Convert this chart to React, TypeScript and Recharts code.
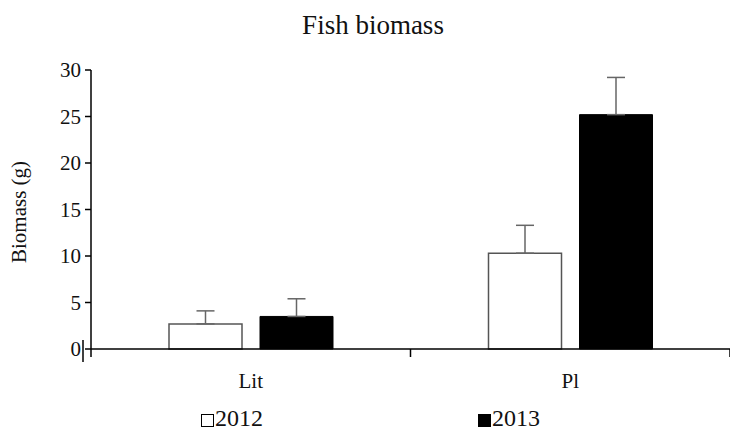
import React from 'react';
import { BarChart, Bar, XAxis, YAxis, ErrorBar } from 'recharts';

const categories = ['Lit', 'Pl'];
const values2012 = [2.7, 10.3];
const values2013 = [3.5, 25.2];
const errors2012 = [1.4, 3.0];
const errors2013 = [1.9, 4.0];
const yTicks = [0, 5, 10, 15, 20, 25, 30];
const seriesNames = ['2012', '2013'];

const data = categories.map((c, i) => ({
  name: c,
  v2012: values2012[i],
  v2013: values2013[i],
  e2012: [0, errors2012[i]],
  e2013: [0, errors2013[i]],
}));

const FONT = 'Liberation Serif, Times New Roman, Times, DejaVu Serif, serif';
const BAND = 319.5;

const XTick = (props: any) => {
  const { x, y, payload, index } = props;
  return (
    <g>
      <line x1={x - BAND / 2} x2={x - BAND / 2} y1={y} y2={y + 8} stroke="#000" strokeWidth={1.5} />
      {index === categories.length - 1 && (
        <line x1={x + BAND / 2} x2={x + BAND / 2} y1={y} y2={y + 8} stroke="#000" strokeWidth={1.5} />
      )}
      <text x={x} y={y + 39} textAnchor="middle" style={{ fontFamily: FONT }} fontSize={21} fill="#111">
        {payload.value}
      </text>
    </g>
  );
};

const YTick = (props: any) => {
  const { x, y, payload } = props;
  return (
    <g>
      <text x={x} y={y + 7} textAnchor="end" style={{ fontFamily: FONT }} fontSize={21} fill="#111">
        {payload.value}
      </text>
      {payload.value === 0 && (
        <line x1={x + 2} x2={x + 2} y1={y - 9} y2={y + 13} stroke="#000" strokeWidth={1.5} />
      )}
    </g>
  );
};

const YLabel = () => (
  <text
    x={26}
    y={212}
    transform="rotate(-90, 26, 212)"
    textAnchor="middle"
    style={{ fontFamily: FONT }}
    fontSize={21}
    fill="#111"
  >
    Biomass (g)
  </text>
);

export default function App() {
  return (
    <div style={{ position: 'absolute', left: 0, top: 0, width: 730, height: 435, background: '#fff', fontFamily: FONT }}>
      <div
        style={{
          position: 'absolute',
          left: 0,
          width: 746,
          top: 10,
          textAlign: 'center',
          fontFamily: FONT,
          fontSize: 27,
          color: '#111',
        }}
      >
        Fish biomass
      </div>
      <BarChart
        width={730}
        height={435}
        data={data}
        margin={{ top: 70, right: 0, left: 0, bottom: 46 }}
        barSize={73}
        barGap={18}
      >
        <XAxis
          dataKey="name"
          height={40}
          axisLine={{ stroke: '#000', strokeWidth: 1.5 }}
          tickLine={false}
          tickSize={0}
          tickMargin={0}
          tick={<XTick />}
          interval={0}
        />
        <YAxis
          width={91}
          domain={[0, 30]}
          ticks={yTicks}
          interval={0}
          axisLine={{ stroke: '#000', strokeWidth: 1.5 }}
          tickLine={{ stroke: '#000', strokeWidth: 1.5 }}
          tickSize={6}
          tickMargin={4}
          tick={<YTick />}
          label={<YLabel />}
        />
        <Bar dataKey="v2012" name={seriesNames[0]} fill="#fff" stroke="#555" strokeWidth={1.5} isAnimationActive={false}>
          <ErrorBar dataKey="e2012" direction="y" width={9} stroke="#666" strokeWidth={1.5} isAnimationActive={false} />
        </Bar>
        <Bar dataKey="v2013" name={seriesNames[1]} fill="#000" stroke="#000" strokeWidth={1} isAnimationActive={false}>
          <ErrorBar dataKey="e2013" direction="y" width={9} stroke="#666" strokeWidth={1.5} isAnimationActive={false} />
        </Bar>
      </BarChart>
      {[
        { left: 201, fill: '#fff', label: seriesNames[0] },
        { left: 478, fill: '#000', label: seriesNames[1] },
      ].map((it) => (
        <div
          key={it.label}
          style={{
            position: 'absolute',
            left: it.left,
            top: 405,
            display: 'flex',
            alignItems: 'center',
            fontFamily: FONT,
            fontSize: 24,
            color: '#111',
            lineHeight: '27px',
          }}
        >
          <span
            style={{
              display: 'inline-block',
              width: 11,
              height: 11,
              border: '1.5px solid #000',
              background: it.fill,
              marginRight: 1,
              marginTop: 3,
            }}
          />
          {it.label}
        </div>
      ))}
    </div>
  );
}
